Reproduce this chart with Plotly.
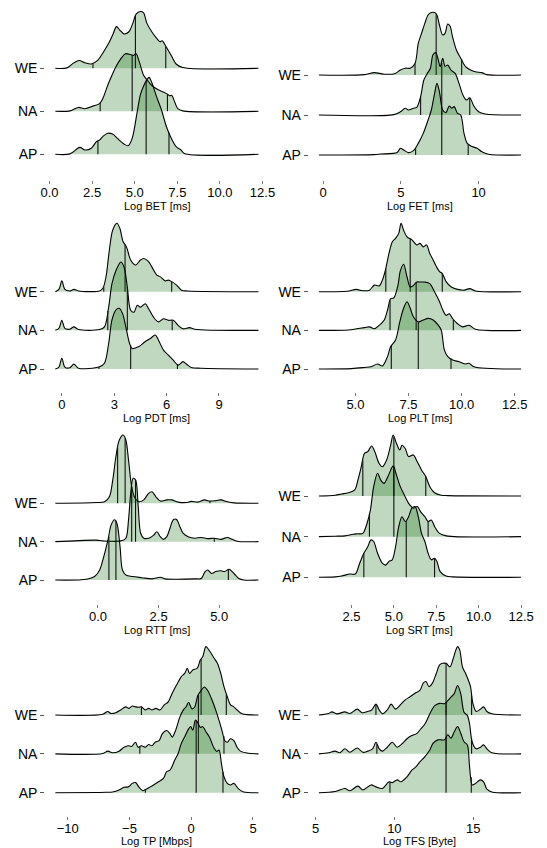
import plotly.graph_objects as go

# ---------------- data (x = log value, h = scaled density height) ----------------
# BET
BET_WE_x = [0.34,1.02,1.40,1.74,2.07,2.45,2.84,3.12,3.47,3.74,3.93,4.12,4.37,4.66,4.89,5.08,5.33,5.52,5.71,6.00,6.28,6.48,6.61,6.86,7.15,7.43,7.82,12.26]
BET_WE_h = [0,0.01,0.12,0.18,0.13,0.10,0.19,0.35,0.58,0.81,0.97,0.89,0.80,0.85,1.05,1.26,1.32,1.29,1.05,0.85,0.70,0.62,0.64,0.49,0.29,0.10,0.02,0]
BET_WE_q = [2.55, 5.04, 6.82]
BET_WE_qh = [0.12, 1.22, 0.50]
BET_NA_x = [0.34,1.21,1.69,2.07,2.55,2.93,3.12,3.41,3.60,3.89,4.18,4.46,4.75,4.94,5.08,5.27,5.52,5.71,6.00,6.38,6.67,6.92,7.05,7.18,7.34,7.53,7.82,12.26]
BET_NA_h = [0,0.01,0.09,0.06,0.12,0.18,0.29,0.60,0.78,1.03,1.22,1.34,1.32,1.30,1.34,1.15,0.84,0.74,0.60,0.50,0.45,0.40,0.36,0.37,0.22,0.06,0.01,0]
BET_NA_q = [2.97, 4.85, 6.92]
BET_NA_qh = [0.20, 1.31, 0.40]
BET_AP_x = [0.34,1.2,1.78,2.07,2.45,2.74,2.93,3.12,3.41,3.70,3.98,4.37,4.62,4.85,5.13,5.33,5.52,5.71,5.84,6.00,6.28,6.57,6.86,7.15,7.43,7.72,7.91,12.26]
BET_AP_h = [0,0.01,0.16,0.10,0.14,0.29,0.33,0.41,0.49,0.47,0.37,0.24,0.20,0.37,0.95,1.38,1.59,1.73,1.79,1.67,1.34,1.03,0.64,0.37,0.18,0.10,0.02,0]
BET_AP_q = [2.84, 5.67, 7.01]
BET_AP_qh = [0.30, 1.71, 0.50]

# FET
FET_WE_x = [-0.27,2.66,3.29,3.92,4.65,4.97,5.28,5.60,5.91,6.12,6.33,6.54,6.75,6.96,7.17,7.32,7.48,7.69,7.84,8.01,8.16,8.32,8.57,8.85,9.16,9.48,9.79,10.21,10.52,12.73]
FET_WE_h = [0,0.01,0.06,0.02,0.04,0.125,0.17,0.17,0.29,0.79,1.04,1.29,1.50,1.56,1.56,1.50,1.25,1.00,1.04,1.275,1.225,0.96,0.625,0.42,0.21,0.125,0.08,0.06,0.01,0]
FET_WE_q = [5.91, 7.27, 8.91]
FET_WE_qh = [0.29, 1.52, 0.40]
FET_NA_x = [-0.27,4.55,4.97,5.28,5.49,5.81,6.02,6.27,6.48,6.69,6.90,7.06,7.23,7.38,7.53,7.69,7.84,8.01,8.22,8.49,8.74,8.99,9.22,9.43,9.69,10.0,10.42,12.73]
FET_NA_h = [0,0.01,0.08,0.17,0.125,0.17,0.19,0.46,0.875,1.03,1.17,1.50,1.56,1.42,1.21,1.42,1.22,1.25,1.125,1.04,0.79,0.50,0.375,0.43,0.225,0.08,0.025,0]
FET_NA_q = [6.27, 7.63, 9.43]
FET_NA_qh = [0.46, 1.30, 0.43]
FET_AP_x = [-0.27,3.29,3.71,4.76,4.97,5.18,5.49,5.81,6.12,6.44,6.75,6.96,7.17,7.32,7.48,7.69,7.90,8.11,8.28,8.43,8.64,8.85,9.06,9.27,9.58,9.90,10.21,10.63,12.73]
FET_AP_h = [0,0.01,0.025,0.06,0.17,0.125,0.06,0.11,0.29,0.54,0.875,1.125,1.54,1.79,1.58,1.125,1.06,1.225,1.17,1.21,1.04,1.0,0.54,0.29,0.21,0.17,0.08,0.02,0]
FET_AP_q = [5.95, 7.63, 9.33]
FET_AP_qh = [0.17, 1.10, 0.27]

# PDT
PDT_WE_x = [-0.375,-0.17,0,0.17,0.45,0.69,0.95,2.16,2.35,2.53,2.72,2.91,3.15,3.32,3.51,3.70,3.94,4.22,4.50,4.69,4.97,5.25,5.44,5.63,5.91,6.10,6.29,6.57,6.85,7.22,11.26]
PDT_WE_h = [0,0.06,0.28,0.06,0.02,0.06,0.02,0.02,0.09,0.39,1.08,1.59,1.77,1.64,1.29,1.16,0.82,0.69,0.82,0.86,0.78,0.56,0.43,0.39,0.28,0.30,0.26,0.17,0.04,0.02,0]
PDT_WE_q = [2.40, 3.62, 6.29]
PDT_WE_qh = [0.12, 1.22, 0.26]
PDT_NA_x = [-0.375,-0.17,0,0.17,0.45,0.69,0.95,2.16,2.44,2.68,2.87,3.10,3.38,3.56,3.75,3.94,4.13,4.32,4.50,4.78,4.97,5.25,5.53,5.82,6.10,6.38,6.66,6.94,7.32,7.60,11.26]
PDT_NA_h = [0,0.05,0.26,0.05,0.03,0.09,0.02,0.02,0.09,0.60,1.21,1.55,1.77,1.64,1.12,0.52,0.47,0.65,0.60,0.69,0.56,0.34,0.22,0.30,0.26,0.26,0.13,0.04,0.07,0.03,0]
PDT_NA_q = [2.63, 3.75, 6.32]
PDT_NA_qh = [0.50, 1.12, 0.25]
PDT_AP_x = [-0.375,-0.17,0,0.17,0.45,0.69,0.95,2.16,2.44,2.68,2.87,3.10,3.28,3.47,3.70,3.88,4.03,4.41,4.78,5.07,5.35,5.53,5.82,6.10,6.38,6.66,6.94,7.13,7.41,7.97,11.26]
PDT_AP_h = [0,0.05,0.28,0.05,0.03,0.13,0.02,0.06,0.15,0.66,1.27,1.53,1.57,1.44,1.01,0.66,0.53,0.58,0.71,0.79,0.88,0.75,0.49,0.36,0.23,0.10,0.19,0.13,0.04,0.02,0]
PDT_AP_q = [2.12, 3.94, 6.62]
PDT_AP_qh = [0.05, 0.62, 0.12]

# PLT
PLT_WE_x = [3.28,4.6,5.05,5.28,5.66,5.89,6.12,6.27,6.43,6.58,6.74,6.89,7.04,7.15,7.27,7.43,7.66,7.89,8.04,8.20,8.35,8.50,8.66,8.81,8.96,9.09,9.27,9.50,9.81,10.12,10.38,10.65,12.80]
PLT_WE_h = [0,0.01,0.06,0.03,0.04,0.17,0.15,0.30,0.60,0.99,1.29,1.38,1.51,1.77,1.59,1.42,1.34,1.21,1.25,1.16,1.21,0.99,0.82,0.65,0.52,0.47,0.26,0.13,0.06,0.04,0.08,0.02,0]
PLT_WE_q = [6.43, 7.58, 9.09]
PLT_WE_qh = [0.60, 1.37, 0.47]
PLT_NA_x = [3.28,4.66,5.05,5.43,5.66,5.89,6.12,6.35,6.51,6.66,6.81,7.00,7.12,7.27,7.43,7.58,7.73,7.89,8.04,8.27,8.50,8.73,8.93,9.12,9.27,9.42,9.58,9.81,10.04,10.35,10.65,12.80]
PLT_NA_h = [0,0.01,0.04,0.07,0.09,0.04,0.13,0.26,0.52,0.82,0.84,1.16,1.55,1.71,1.38,1.12,1.16,1.25,1.25,1.25,1.21,0.99,0.78,0.52,0.39,0.43,0.30,0.17,0.09,0.13,0.03,0]
PLT_NA_q = [6.63, 7.86, 9.61]
PLT_NA_qh = [0.78, 1.25, 0.28]
PLT_AP_x = [3.28,4.82,5.43,5.74,6.04,6.27,6.51,6.66,6.89,7.09,7.27,7.43,7.58,7.73,7.96,8.20,8.43,8.66,8.89,9.04,9.19,9.35,9.58,9.88,10.19,10.35,10.58,12.80]
PLT_AP_h = [0,0.01,0.04,0.06,0.13,0.08,0.32,0.58,0.75,1.22,1.57,1.74,1.57,1.35,1.22,1.27,1.31,1.27,1.14,1.01,0.49,0.32,0.23,0.19,0.13,0.15,0.06,0]
PLT_AP_q = [6.69, 7.96, 9.50]
PLT_AP_qh = [0.60, 1.22, 0.27]

# RTT
RTT_WE_x = [-1.76,-0.07,0.27,0.47,0.61,0.74,0.88,1.04,1.15,1.26,1.39,1.53,1.69,1.89,2.09,2.23,2.39,2.57,2.84,3.04,3.31,3.65,3.85,4.12,4.39,4.59,4.86,5.07,5.34,5.61,6.62]
RTT_WE_h = [0,0.02,0.04,0.17,0.61,1.22,1.65,1.78,1.65,1.13,0.43,0.13,0.04,0.09,0.26,0.30,0.17,0.06,0.09,0.09,0.03,0.02,0.05,0.03,0.09,0.06,0.07,0.09,0.04,0.01,0]
RTT_WE_q = [0.81, 1.12, 4.62]
RTT_WE_qh = [1.45, 1.69, 0.06]
RTT_NA_x = [-1.76,-0.07,0.20,0.95,1.15,1.26,1.35,1.45,1.55,1.66,1.76,1.89,2.09,2.30,2.43,2.57,2.70,2.84,2.97,3.11,3.24,3.38,3.51,3.72,3.99,4.26,4.53,4.80,5.07,5.34,5.54,5.74,6.62]
RTT_NA_h = [0,0.04,0.02,0.02,0.09,0.57,1.26,1.65,1.61,0.91,0.22,0.09,0.09,0.17,0.26,0.13,0.06,0.13,0.35,0.57,0.58,0.39,0.22,0.13,0.09,0.11,0.08,0.09,0.06,0.11,0.06,0.01,0]
RTT_NA_q = [1.39, 1.55, 4.80]
RTT_NA_qh = [1.45, 1.61, 0.09]
RTT_AP_x = [-1.76,-0.47,-0.14,0.07,0.20,0.41,0.54,0.68,0.78,0.91,1.01,1.15,1.42,1.82,2.23,2.57,2.77,3.18,3.99,4.26,4.42,4.53,4.69,4.86,5.07,5.23,5.41,5.61,5.81,6.01,6.62]
RTT_AP_h = [0,0.02,0.09,0.26,0.52,1.04,1.43,1.57,1.48,0.87,0.26,0.13,0.09,0.06,0.03,0.07,0.03,0.02,0.03,0.04,0.22,0.26,0.17,0.22,0.24,0.22,0.28,0.17,0.04,0.0,0]
RTT_AP_q = [0.45, 0.74, 5.38]
RTT_AP_qh = [1.13, 1.55, 0.27]

# SRT
SRT_WE_x = [0.58,1.54,1.92,2.31,2.69,2.88,3.08,3.27,3.46,3.69,3.88,4.13,4.33,4.58,4.81,4.96,5.15,5.35,5.48,5.67,5.87,6.15,6.38,6.63,6.88,7.12,7.40,7.79,8.17,12.5]
SRT_WE_h = [0,0.02,0.05,0.08,0.15,0.39,0.72,1.05,1.09,1.23,1.09,0.80,0.72,0.89,1.25,1.50,1.30,1.13,1.25,1.17,0.97,1.01,0.84,0.64,0.48,0.23,0.08,0.02,0.01,0]
SRT_WE_q = [3.17, 5.0, 6.88]
SRT_WE_qh = [0.88, 1.46, 0.48]
SRT_NA_x = [0.58,1.54,2.12,2.60,2.88,3.17,3.42,3.62,3.81,4.04,4.23,4.42,4.65,4.96,5.15,5.38,5.62,5.87,6.15,6.38,6.58,6.83,7.02,7.21,7.40,7.69,8.08,12.5]
SRT_NA_h = [0,0.01,0.02,0.06,0.07,0.08,0.33,0.66,1.23,1.56,1.39,1.31,1.48,1.74,1.52,1.23,1.02,0.82,0.70,0.74,0.61,0.49,0.37,0.41,0.25,0.08,0.02,0]
SRT_NA_q = [3.56, 5.0, 7.02]
SRT_NA_qh = [0.57, 1.72, 0.37]
SRT_AP_x = [0.58,1.54,1.92,2.40,2.73,2.98,3.23,3.46,3.65,3.81,4.04,4.33,4.52,4.71,4.90,5.10,5.29,5.48,5.67,5.87,6.06,6.25,6.44,6.63,6.83,7.02,7.21,7.40,7.54,7.73,8.08,8.46,12.5]
SRT_AP_h = [0,0.01,0.03,0.08,0.08,0.34,0.59,0.75,0.92,0.88,0.59,0.34,0.30,0.39,0.43,0.75,1.25,1.49,1.37,1.49,1.70,1.74,1.49,1.08,0.88,0.59,0.43,0.47,0.39,0.14,0.03,0.01,0]
SRT_AP_q = [3.23, 5.73, 7.40]
SRT_AP_qh = [0.59, 1.40, 0.47]

# TP
TP_WE_x = [-11.0,-7.16,-6.76,-6.50,-6.10,-5.70,-5.31,-5.04,-4.77,-4.51,-4.24,-4.03,-3.71,-3.45,-3.18,-2.86,-2.52,-2.18,-1.86,-1.54,-1.19,-0.80,-0.53,-0.32,-0.13,0.13,0.48,0.74,0.93,1.19,1.46,1.86,2.12,2.39,2.65,2.92,3.18,3.45,3.71,4.11,5.44]
TP_WE_h = [0,0.02,0.09,0.04,0.06,0.13,0.21,0.17,0.23,0.21,0.20,0.21,0.13,0.17,0.13,0.17,0.13,0.26,0.34,0.56,0.77,0.99,1.07,1.20,1.07,1.16,1.20,1.42,1.50,1.76,1.66,1.46,1.33,1.07,0.73,0.47,0.26,0.21,0.13,0.03,0]
TP_WE_q = [-4.03, 0.80, 2.84]
TP_WE_qh = [0.21, 1.44, 0.53]
TP_NA_x = [-11.0,-7.16,-6.76,-6.37,-5.84,-5.44,-5.09,-4.83,-4.51,-4.30,-4.03,-3.71,-3.45,-3.18,-2.92,-2.60,-2.33,-1.99,-1.72,-1.54,-1.27,-0.93,-0.66,-0.40,-0.21,0.05,0.27,0.53,0.80,1.06,1.33,1.64,1.99,2.25,2.52,2.71,2.92,3.18,3.45,3.71,3.98,4.51,5.44]
TP_NA_h = [0,0.01,0.07,0.03,0.07,0.17,0.21,0.19,0.30,0.17,0.21,0.17,0.24,0.21,0.30,0.34,0.52,0.60,0.52,0.43,0.60,0.94,1.12,1.22,1.33,1.16,1.20,1.50,1.63,1.72,1.63,1.42,1.12,0.86,0.56,0.34,0.30,0.39,0.34,0.17,0.07,0.02,0]
TP_NA_q = [-4.16, 0.58, 2.65]
TP_NA_qh = [0.19, 1.52, 0.45]
TP_AP_x = [-11.0,-6.90,-6.37,-5.84,-5.44,-5.09,-4.77,-4.51,-4.24,-3.93,-3.66,-3.32,-3.05,-2.65,-2.25,-1.99,-1.72,-1.33,-1.06,-0.80,-0.53,-0.27,-0.05,0.13,0.34,0.53,0.74,0.93,1.19,1.46,1.86,2.07,2.25,2.44,2.65,2.92,3.18,3.45,3.85,4.24,5.44]
TP_AP_h = [0,0.01,0.02,0.07,0.14,0.15,0.24,0.26,0.15,0.05,0.09,0.15,0.20,0.28,0.37,0.54,0.58,0.84,1.01,1.27,1.44,1.61,1.70,1.61,1.87,1.80,1.68,1.70,1.57,1.44,1.14,1.06,1.10,0.76,0.41,0.24,0.20,0.24,0.09,0.02,0]
TP_AP_q = [-3.71, 0.40, 2.57]
TP_AP_qh = [0.07, 1.85, 0.54]

# TFS
TFS_WE_x = [5.21,5.83,6.04,6.35,6.86,7.17,7.65,7.94,8.31,8.56,8.83,9.04,9.24,9.55,9.80,10.07,10.38,10.69,11.0,11.31,11.63,11.83,12.0,12.20,12.41,12.66,12.87,13.07,13.28,13.53,13.74,13.90,14.01,14.15,14.32,14.52,14.69,14.83,14.98,15.19,15.46,15.66,15.87,16.18,18.04]
TFS_WE_h = [0,0.04,0.08,0.03,0.08,0.04,0.15,0.06,0.09,0.13,0.28,0.13,0.03,0.13,0.28,0.15,0.26,0.39,0.47,0.56,0.64,0.82,0.86,0.73,0.82,1.07,1.29,1.33,1.33,1.24,1.46,1.67,1.76,1.67,1.24,1.07,0.90,0.73,0.30,0.09,0.15,0.21,0.09,0.03,0]
TFS_WE_q = [8.83, 13.28, 14.90]
TFS_WE_qh = [0.28, 1.33, 0.50]
TFS_NA_x = [5.21,5.83,6.24,6.55,6.86,7.17,7.65,8.0,8.31,8.62,8.83,9.04,9.24,9.55,9.87,10.18,10.49,10.80,11.11,11.42,11.67,11.94,12.25,12.56,12.87,13.18,13.39,13.59,13.80,14.01,14.21,14.42,14.63,14.77,14.94,15.19,15.46,15.66,15.87,16.18,18.04]
TFS_NA_h = [0,0.03,0.07,0.03,0.13,0.04,0.15,0.04,0.07,0.13,0.30,0.13,0.07,0.17,0.30,0.17,0.26,0.39,0.47,0.52,0.64,0.77,1.03,1.24,1.30,1.29,1.37,1.46,1.55,1.76,1.55,1.07,0.99,0.77,0.30,0.13,0.17,0.23,0.13,0.03,0]
TFS_NA_q = [8.89, 13.28, 14.90]
TFS_NA_qh = [0.25, 1.33, 0.40]
TFS_AP_x = [5.21,6.24,6.86,7.17,7.69,8.0,8.52,8.83,9.24,9.66,9.87,10.18,10.42,10.80,11.11,11.38,11.63,11.94,12.25,12.45,12.76,12.97,13.18,13.39,13.59,13.80,14.01,14.21,14.42,14.63,14.77,14.94,15.15,15.46,15.66,15.87,16.18,18.04]
TFS_AP_h = [0,0.03,0.11,0.05,0.17,0.07,0.20,0.15,0.11,0.28,0.26,0.33,0.28,0.41,0.58,0.67,0.80,0.93,1.10,1.27,1.36,1.36,1.36,1.49,1.40,1.57,1.70,1.53,1.31,1.23,0.67,0.20,0.24,0.33,0.28,0.09,0.02,0]
TFS_AP_q = [9.72, 13.28, 14.88]
TFS_AP_qh = [0.28, 1.42, 0.40]

regions = ["WE", "NA", "AP"]          # drawn top to bottom
region_level = {"AP": 0, "NA": 1, "WE": 2}

titles = ["Log BET [ms]", "Log FET [ms]", "Log PDT [ms]", "Log PLT [ms]",
          "Log RTT [ms]", "Log SRT [ms]", "Log TP [Mbps]", "Log TFS [Byte]"]
tick_vals = [[0, 2.5, 5, 7.5, 10, 12.5], [0, 5, 10], [0, 3, 6, 9], [5, 7.5, 10, 12.5],
             [0, 2.5, 5], [2.5, 5, 7.5, 10, 12.5], [-10, -5, 0, 5], [5, 10, 15]]
tick_fmt = [".1f", "d", "d", ".1f", ".1f", ".1f", "d", "d"]

G = globals()
metrics = ["BET", "FET", "PDT", "PLT", "RTT", "SRT", "TP", "TFS"]
panel_data = []
for m in metrics:
    panel_data.append({r: (G[f"{m}_{r}_x"], G[f"{m}_{r}_h"], G[f"{m}_{r}_q"], G[f"{m}_{r}_qh"]) for r in regions})

# ---------------- layout geometry (pixels) ----------------
W, H = 547, 848
col_px = [(41, 269), (310, 537)]
row_bottom = [180, 392, 604, 816]
title_y = [206, 418, 630, 841]
# baseline pixel of AP and WE per panel
base_px = [(154.3, 68.3), (155, 75), (369, 291.7), (369, 291.7),
           (580, 503.3), (577.3, 496), (792.7, 715), (792.7, 715)]

FILL = "rgba(0,100,0,0.25)"
FONT = "Liberation Sans, Arial, Helvetica, sans-serif"

fig = go.Figure()
layout = dict(width=W, height=H, margin=dict(l=0, r=0, t=0, b=0),
              paper_bgcolor="white", plot_bgcolor="white", showlegend=False,
              font=dict(family=FONT, color="black"), annotations=[])

for i, pdata in enumerate(panel_data):
    k = i + 1
    xa, ya = f"x{k}", f"y{k}"
    row, col = i // 2, i % 2
    for r in regions:
        xs, hs, qx, qh = pdata[r]
        b = region_level[r]
        fig.add_trace(go.Scatter(x=[xs[0], xs[-1]], y=[b, b], mode="lines",
                                 line=dict(width=0, color="rgba(0,0,0,0)"),
                                 hoverinfo="skip", xaxis=xa, yaxis=ya))
        fig.add_trace(go.Scatter(x=xs, y=[b + h for h in hs], mode="lines",
                                 fill="tonexty", fillcolor=FILL,
                                 line=dict(color="black", width=1.1, shape="spline", smoothing=0.9),
                                 hoverinfo="skip", xaxis=xa, yaxis=ya))
        lx, ly = [], []
        for q, h in zip(qx, qh):
            lx += [q, q, None]
            ly += [b, b + h, None]
        fig.add_trace(go.Scatter(x=lx, y=ly, mode="lines",
                                 line=dict(color="#111111", width=1.1),
                                 hoverinfo="skip", xaxis=xa, yaxis=ya))
    # x range: data range with 5 % expansion
    allx = [v for r in regions for v in pdata[r][0]]
    lo, hi = min(allx), max(allx)
    span = hi - lo
    xr = [lo - 0.05 * span, hi + 0.05 * span]
    L, R = col_px[col]
    B = row_bottom[row]
    T = B - 178
    pA, pW = base_px[i]
    s = (pA - pW) / 2.0
    yr = [(pA - B) / s, (pA - T) / s]
    tv = tick_vals[i]
    tt = [format(v, tick_fmt[i]) if tick_fmt[i] != "d" else str(int(v)) for v in tv]
    tt = [t.replace("-", "\u2212") for t in tt]
    layout[f"xaxis{k}"] = dict(domain=[L / W, R / W], range=xr, anchor=ya, fixedrange=True,
                               showgrid=False, zeroline=False, showline=False,
                               tickvals=tv, ticktext=tt, ticks="outside", ticklen=3,
                               tickcolor="#777777", tickwidth=1, ticklabelstandoff=-3,
                               tickfont=dict(size=13, color="black", family=FONT))
    layout[f"yaxis{k}"] = dict(domain=[1 - B / H, 1 - T / H], range=yr, anchor=xa, fixedrange=True,
                               showgrid=False, zeroline=False, showline=False,
                               tickvals=[0, 1, 2], ticktext=["AP", "NA", "WE"],
                               ticks="outside", ticklen=4, tickcolor="#555555", tickwidth=1,
                               tickfont=dict(size=14, color="black", family=FONT))
    layout["annotations"].append(dict(text=titles[i], xref="paper", yref="paper",
                                      x=(L + R) / 2 / W, y=1 - title_y[row] / H,
                                      xanchor="center", yanchor="middle", showarrow=False,
                                      font=dict(size=11, color="black", family=FONT)))

fig.update_layout(**layout)
fig.write_html("out.html", config={"displayModeBar": False, "staticPlot": True},
               post_script="document.body.style.margin='0';document.body.style.padding='0';"
                           "document.documentElement.style.overflow='hidden';")
